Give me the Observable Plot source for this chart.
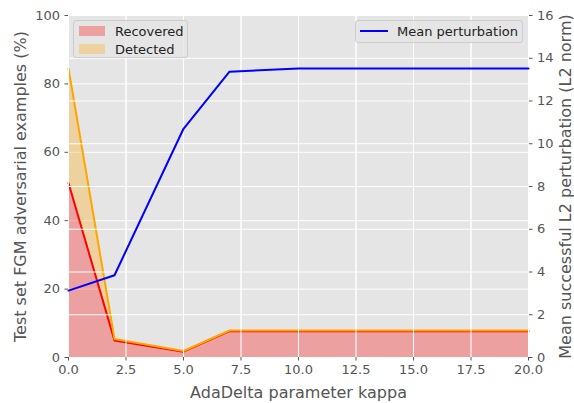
<!DOCTYPE html>
<html>
<head>
<meta charset="utf-8">
<script src="https://cdn.jsdelivr.net/npm/d3@7"></script>
<script src="https://cdn.jsdelivr.net/npm/@observablehq/plot@0.6"></script>
<style>
  html, body { margin: 0; padding: 0; background: #fff; }
  #wrap { position: relative; width: 574px; height: 403px; font-family: "DejaVu Sans", sans-serif; }
  .legend { position: absolute; background: rgba(229,229,229,0.8); border: 1px solid #cccccc; border-radius: 3px; box-sizing: border-box; font-size: 13px; color: #222; }
  .item { position: absolute; white-space: nowrap; line-height: 13px; }
  .patch { position: absolute; width: 26px; height: 10px; }
</style>
</head>
<body>
<div id="wrap"></div>
<script>
// Data
const kappa = [0, 2, 5, 7, 10, 20];
const recovered = [51, 5.0, 1.7, 7.7, 7.7, 7.7];
const detected = [84.5, 5.4, 1.9, 7.9, 7.9, 7.9];
const perturbation = [3.13, 3.85, 10.7, 13.37, 13.52, 13.52];

const xTicks = [0, 2.5, 5, 7.5, 10, 12.5, 15, 17.5, 20];
const leftTicks = [0, 20, 40, 60, 80, 100];
const rightTicks = [0, 2, 4, 6, 8, 10, 12, 14, 16];
const rightMax = 16;

const xLabel = "AdaDelta parameter kappa";
const leftLabel = "Test set FGM adversarial examples (%)";
const rightLabel = "Mean successful L2 perturbation (L2 norm)";
const legendLeft = ["Recovered", "Detected"];
const legendRight = ["Mean perturbation"];

const toLeft = v => v * 100 / rightMax;
const rows = kappa.map((k, i) => ({k, rec: recovered[i], det: detected[i], pert: toLeft(perturbation[i])}));
const rightPos = rightTicks.map(toLeft);

const ink = "#555555";
const chart = Plot.plot({
  width: 574,
  height: 403,
  marginLeft: 68,
  marginRight: 46,
  marginTop: 15,
  marginBottom: 46,
  style: {fontFamily: "DejaVu Sans, sans-serif", fontSize: "13px", color: ink, background: "white"},
  x: {domain: [0, 20]},
  y: {domain: [0, 100]},
  marks: [
    Plot.frame({fill: "#e5e5e5", stroke: null}),
    Plot.gridY(leftTicks, {stroke: "white", strokeOpacity: 1, strokeWidth: 1}),
    Plot.gridX(xTicks, {stroke: "white", strokeOpacity: 1, strokeWidth: 1}),
    Plot.areaY(rows, {x: "k", y1: 0, y2: "rec", fill: "red", fillOpacity: 0.3}),
    Plot.areaY(rows, {x: "k", y1: "rec", y2: "det", fill: "orange", fillOpacity: 0.3}),
    Plot.lineY(rows, {x: "k", y: "rec", stroke: "red", strokeWidth: 2}),
    Plot.lineY(rows, {x: "k", y: "det", stroke: "orange", strokeWidth: 2}),
    Plot.gridY(rightPos, {stroke: "white", strokeOpacity: 1, strokeWidth: 1}),
    Plot.gridX(xTicks, {stroke: "white", strokeOpacity: 1, strokeWidth: 1}),
    Plot.lineY(rows, {x: "k", y: "pert", stroke: "blue", strokeWidth: 2}),
    Plot.axisX(xTicks, {tickFormat: d3.format(".1f"), tickSize: 3.5, tickPadding: 4, label: null, fontSize: 13, stroke: ink}),
    Plot.axisY(leftTicks, {anchor: "left", tickSize: 3.5, tickPadding: 5, label: null, fontSize: 13, stroke: ink}),
    Plot.axisY(rightPos, {anchor: "right", tickSize: 3.5, tickPadding: 5, label: null, fontSize: 13, stroke: ink,
      tickFormat: d => String(Math.round(d * rightMax / 100))}),
    Plot.text([xLabel], {frameAnchor: "bottom", dy: 35, fontSize: 16, fill: ink, lineAnchor: "middle", textAnchor: "middle"}),
    Plot.text([leftLabel], {frameAnchor: "left", dx: -48, rotate: -90, fontSize: 16, fill: ink, lineAnchor: "middle", textAnchor: "middle"}),
    Plot.text([rightLabel], {frameAnchor: "right", dx: 37, rotate: -90, fontSize: 16, fill: ink, lineAnchor: "middle", textAnchor: "middle"})
  ]
});
const wrap = document.getElementById("wrap");
wrap.appendChild(chart);

// Legends (HTML overlay)
const lg1 = document.createElement("div");
lg1.className = "legend";
Object.assign(lg1.style, {left: "73px", top: "20px", width: "115px", height: "38px"});
const fills = ["rgb(237,160,160)", "rgb(237,210,160)"];
legendLeft.forEach((t, i) => {
  const p = document.createElement("div");
  p.className = "patch";
  Object.assign(p.style, {left: "5px", top: (5 + i * 18) + "px", background: fills[i]});
  lg1.appendChild(p);
  const s = document.createElement("div");
  s.className = "item";
  Object.assign(s.style, {left: "41px", top: (4 + i * 18) + "px"});
  s.textContent = t;
  lg1.appendChild(s);
});
wrap.appendChild(lg1);

const lg2 = document.createElement("div");
lg2.className = "legend";
Object.assign(lg2.style, {left: "355px", top: "20px", width: "168px", height: "23px"});
const ln = document.createElement("div");
Object.assign(ln.style, {position: "absolute", left: "4px", top: "9px", width: "28px", height: "2px", background: "blue"});
lg2.appendChild(ln);
const s2 = document.createElement("div");
s2.className = "item";
Object.assign(s2.style, {left: "41px", top: "4px"});
s2.textContent = legendRight[0];
lg2.appendChild(s2);
wrap.appendChild(lg2);
</script>
</body>
</html>
